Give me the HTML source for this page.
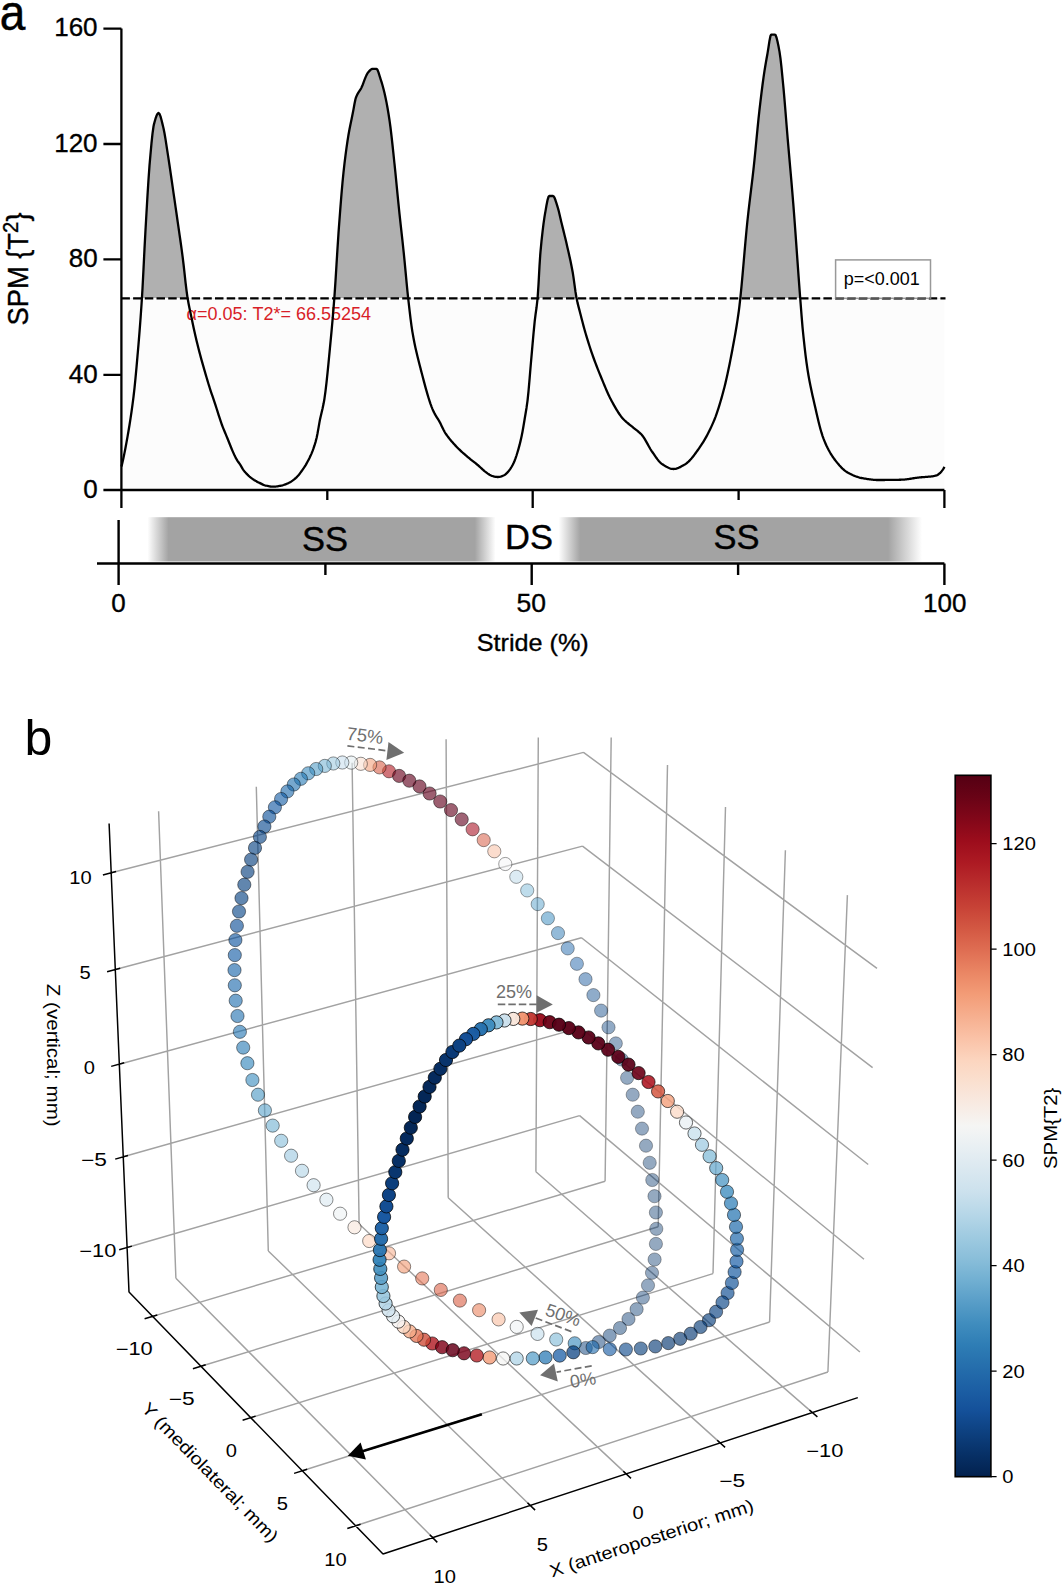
<!DOCTYPE html>
<html><head><meta charset="utf-8"><style>
html,body{margin:0;padding:0;background:#fff;}
body{width:1062px;height:1586px;overflow:hidden;position:relative;font-family:"Liberation Sans",sans-serif;}
svg{position:absolute;left:0;top:0;}
</style></head><body>
<svg width="1062" height="1586" viewBox="0 0 1062 1586" font-family="Liberation Sans, sans-serif">
<defs><clipPath id="above"><rect x="100" y="0" width="900" height="298.3"/></clipPath>
<linearGradient id="barg" x1="0" y1="0" x2="1062" y2="0" gradientUnits="userSpaceOnUse">
<stop offset="0.1389" stop-color="#a3a3a3" stop-opacity="0"/>
<stop offset="0.1587" stop-color="#a3a3a3" stop-opacity="1"/>
<stop offset="0.4471" stop-color="#a3a3a3" stop-opacity="1"/>
<stop offset="0.4666" stop-color="#a3a3a3" stop-opacity="0"/>
<stop offset="0.5260" stop-color="#a3a3a3" stop-opacity="0"/>
<stop offset="0.5464" stop-color="#a3a3a3" stop-opacity="1"/>
<stop offset="0.8362" stop-color="#a3a3a3" stop-opacity="1"/>
<stop offset="0.8682" stop-color="#a3a3a3" stop-opacity="0"/>
</linearGradient></defs>
<text transform="translate(-0.3,29.7) scale(0.92,1)" font-size="50" stroke="#000" stroke-width="0.5">a</text>
<rect x="121.4" y="298.3" width="823" height="191.7" fill="#fcfcfc"/>
<path d="M121.50,466.50 L122.50,462.26 L123.50,457.71 L124.50,452.87 L125.50,447.77 L126.50,442.41 L127.40,437.40 L127.50,436.83 L128.50,431.06 L129.50,425.04 L130.50,418.69 L131.50,411.93 L132.50,404.67 L133.50,396.82 L133.60,396.00 L134.50,388.05 L135.50,378.11 L136.50,367.32 L137.50,355.97 L137.80,352.50 L138.50,344.29 L139.50,332.08 L140.50,319.00 L141.50,304.72 L141.90,298.60 L142.50,288.45 L143.50,269.12 L144.50,248.84 L145.50,230.00 L146.50,212.54 L147.50,195.41 L148.50,179.49 L149.50,165.69 L149.80,162.10 L150.50,154.07 L151.50,143.12 L152.50,133.60 L153.50,126.48 L154.00,124.10 L154.50,122.21 L155.50,118.71 L156.50,115.83 L157.50,113.83 L158.50,113.01 L158.60,113.00 L159.50,113.83 L160.50,116.35 L161.50,119.97 L162.50,124.11 L163.20,127.00 L163.50,128.27 L164.50,133.27 L165.50,139.18 L166.50,145.62 L167.50,152.19 L168.00,155.40 L168.50,158.61 L169.50,165.23 L170.50,172.07 L171.50,179.01 L172.50,185.95 L172.90,188.70 L173.50,192.82 L174.50,199.69 L175.50,206.60 L176.50,213.53 L177.50,220.50 L177.70,221.90 L178.50,227.45 L179.50,234.34 L180.50,241.28 L181.50,248.40 L182.50,255.83 L182.60,256.60 L183.50,264.01 L184.50,272.98 L185.50,282.02 L186.50,290.41 L187.40,296.80 L187.50,297.42 L188.50,303.18 L189.50,308.28 L190.50,313.00 L191.50,317.63 L192.00,320.00 L192.50,322.40 L193.50,327.15 L194.50,331.78 L195.50,336.24 L195.70,337.10 L196.50,340.48 L197.50,344.58 L198.50,348.55 L199.50,352.40 L200.00,354.30 L200.50,356.17 L201.50,359.83 L202.50,363.39 L203.50,366.90 L204.50,370.36 L204.80,371.40 L205.50,373.82 L206.50,377.25 L207.50,380.64 L208.50,383.96 L209.50,387.18 L209.60,387.50 L210.50,390.29 L211.50,393.29 L212.50,396.23 L213.50,399.15 L214.50,402.10 L215.00,403.60 L215.50,405.12 L216.50,408.24 L217.50,411.40 L218.50,414.57 L219.50,417.69 L220.50,420.73 L221.50,423.62 L222.00,425.00 L222.50,426.32 L223.50,428.84 L224.50,431.26 L225.30,433.20 L225.50,433.69 L226.50,436.13 L227.50,438.55 L228.50,440.98 L229.00,442.20 L229.50,443.45 L230.50,445.99 L231.50,448.50 L232.30,450.40 L232.50,450.86 L233.50,453.11 L234.50,455.29 L235.50,457.33 L236.40,459.00 L236.50,459.17 L237.50,460.80 L238.50,462.27 L239.50,463.71 L240.50,465.20 L241.50,466.85 L242.50,468.54 L243.50,470.09 L243.80,470.50 L244.50,471.39 L245.50,472.57 L246.50,473.66 L247.50,474.67 L248.50,475.62 L248.70,475.80 L249.50,476.51 L250.50,477.35 L251.50,478.14 L252.50,478.88 L253.50,479.57 L254.00,479.90 L254.50,480.21 L255.50,480.81 L256.50,481.37 L257.50,481.90 L258.50,482.41 L259.30,482.80 L259.50,482.90 L260.50,483.40 L261.50,483.90 L262.50,484.39 L263.50,484.84 L264.50,485.23 L265.50,485.53 L265.80,485.60 L266.50,485.75 L267.50,485.97 L268.50,486.17 L269.50,486.35 L270.50,486.50 L271.50,486.61 L272.50,486.68 L273.30,486.70 L273.50,486.70 L274.50,486.66 L275.50,486.58 L276.50,486.46 L277.50,486.31 L278.50,486.14 L279.50,485.95 L280.50,485.76 L280.80,485.70 L281.50,485.55 L282.50,485.31 L283.50,485.02 L284.50,484.69 L285.50,484.32 L286.50,483.93 L287.50,483.50 L288.40,483.10 L288.50,483.05 L289.50,482.55 L290.50,481.98 L291.50,481.35 L292.50,480.65 L293.50,479.90 L294.50,479.10 L295.50,478.25 L295.90,477.90 L296.50,477.34 L297.50,476.31 L298.50,475.18 L299.50,473.95 L300.50,472.65 L301.50,471.29 L302.50,469.90 L303.50,468.45 L304.50,466.92 L305.50,465.31 L306.50,463.60 L307.50,461.81 L308.20,460.50 L308.50,459.93 L309.50,457.96 L310.50,455.86 L311.50,453.60 L312.50,451.15 L312.90,450.10 L313.50,448.45 L314.50,445.47 L315.50,442.12 L316.50,438.31 L316.60,437.90 L317.50,433.56 L318.50,427.84 L319.50,422.09 L319.90,420.00 L320.50,417.16 L321.50,412.91 L322.50,408.74 L323.50,404.08 L324.20,400.20 L324.50,398.32 L325.50,391.09 L326.50,382.59 L327.50,373.14 L328.50,363.05 L329.50,352.63 L330.50,342.20 L331.50,331.64 L332.50,320.49 L333.50,308.59 L334.30,298.40 L334.50,295.71 L335.50,280.90 L336.50,264.69 L337.50,248.33 L338.50,233.08 L338.80,228.90 L339.50,219.48 L340.50,206.36 L341.50,193.92 L342.50,182.50 L343.50,172.40 L344.50,163.47 L345.50,155.30 L346.50,147.84 L347.50,141.02 L348.20,136.60 L348.50,134.80 L349.50,129.26 L350.50,124.21 L351.50,119.40 L352.50,114.59 L353.00,112.10 L353.50,109.41 L354.50,103.72 L355.50,98.98 L355.80,98.00 L356.50,96.19 L357.50,94.12 L358.50,92.44 L359.50,90.93 L360.50,89.36 L361.40,87.70 L361.50,87.49 L362.50,85.21 L363.50,82.63 L364.50,79.96 L365.50,77.38 L366.50,75.09 L367.50,73.27 L368.00,72.60 L368.50,72.02 L369.50,70.88 L370.50,69.88 L371.50,69.15 L372.50,68.81 L372.70,68.80 L373.50,68.80 L374.50,68.80 L375.50,68.80 L376.50,68.80 L377.50,69.84 L378.50,72.42 L379.50,75.67 L380.30,78.20 L380.50,78.79 L381.50,81.90 L382.50,85.29 L383.50,89.00 L384.50,93.05 L385.00,95.20 L385.50,97.46 L386.50,102.37 L387.50,107.80 L388.50,113.76 L389.50,120.24 L389.70,121.60 L390.50,127.51 L391.50,135.88 L392.50,145.00 L393.50,154.47 L394.40,163.00 L394.50,163.94 L395.50,173.67 L396.50,183.80 L397.50,194.05 L398.50,204.14 L399.10,210.00 L399.50,213.80 L400.50,223.04 L401.50,232.09 L402.50,241.17 L403.50,250.51 L403.80,253.40 L404.50,260.42 L405.50,270.98 L406.50,281.63 L407.50,291.83 L408.20,298.40 L408.50,301.08 L409.50,309.91 L410.50,318.31 L411.50,325.92 L412.40,331.80 L412.50,332.39 L413.50,338.01 L414.50,343.16 L415.50,347.92 L416.50,352.37 L417.50,356.56 L418.50,360.57 L419.50,364.47 L420.50,368.33 L420.70,369.10 L421.50,372.20 L422.50,376.05 L423.50,379.88 L424.50,383.65 L425.50,387.34 L426.50,390.93 L427.50,394.40 L428.50,397.72 L429.50,400.88 L430.50,403.84 L431.50,406.59 L432.50,409.11 L433.10,410.50 L433.50,411.37 L434.50,413.35 L435.50,415.13 L436.50,416.78 L437.50,418.37 L438.50,419.98 L439.50,421.69 L440.00,422.60 L440.50,423.57 L441.50,425.63 L442.50,427.75 L443.50,429.80 L444.50,431.66 L444.70,432.00 L445.50,433.28 L446.50,434.76 L447.50,436.15 L448.50,437.46 L449.40,438.60 L449.50,438.73 L450.50,439.96 L451.50,441.15 L452.50,442.32 L453.50,443.45 L454.50,444.55 L455.50,445.62 L456.50,446.67 L457.50,447.70 L458.50,448.70 L458.80,449.00 L459.50,449.68 L460.50,450.64 L461.50,451.57 L462.50,452.48 L463.50,453.37 L464.50,454.24 L465.50,455.11 L466.50,455.96 L467.50,456.81 L468.20,457.40 L468.50,457.65 L469.50,458.48 L470.50,459.28 L471.50,460.07 L472.50,460.85 L473.50,461.63 L474.50,462.42 L475.50,463.21 L476.50,464.01 L477.50,464.83 L477.70,465.00 L478.50,465.69 L479.50,466.59 L480.50,467.51 L481.50,468.44 L482.50,469.36 L483.50,470.24 L484.50,471.06 L485.20,471.60 L485.50,471.82 L486.50,472.58 L487.50,473.34 L488.50,474.06 L489.50,474.72 L490.50,475.28 L491.50,475.70 L491.80,475.80 L492.50,476.01 L493.50,476.29 L494.50,476.55 L495.50,476.76 L496.50,476.91 L497.50,476.99 L497.90,477.00 L498.50,476.98 L499.50,476.85 L500.50,476.61 L501.50,476.30 L502.50,475.93 L503.50,475.52 L504.00,475.30 L504.50,475.05 L505.50,474.36 L506.50,473.46 L507.50,472.40 L508.50,471.21 L509.50,469.96 L509.70,469.70 L510.50,468.59 L511.50,467.00 L512.50,465.19 L513.50,463.17 L514.40,461.20 L514.50,460.97 L515.50,458.43 L516.50,455.50 L517.50,452.27 L518.20,449.90 L518.50,448.85 L519.50,445.16 L520.50,441.11 L521.50,436.69 L521.90,434.80 L522.50,431.75 L523.50,426.07 L524.50,420.02 L524.70,418.80 L525.50,414.05 L526.50,407.94 L527.50,400.80 L527.60,400.00 L528.50,391.40 L529.50,379.84 L530.50,367.74 L531.00,362.00 L531.50,356.37 L532.50,344.86 L533.50,333.59 L534.50,323.28 L534.70,321.40 L535.50,314.90 L536.50,307.77 L537.50,299.07 L537.60,298.00 L538.50,284.50 L539.50,266.01 L540.20,255.30 L540.50,251.72 L541.50,241.10 L542.50,232.04 L543.10,227.10 L543.50,223.96 L544.50,216.86 L545.00,213.90 L545.50,211.09 L546.50,205.30 L547.50,200.19 L548.50,196.80 L549.20,196.00 L549.50,196.00 L550.50,196.00 L551.50,196.00 L552.50,196.00 L553.00,196.00 L553.50,196.21 L554.50,197.72 L555.50,200.29 L556.50,203.43 L557.50,206.68 L557.70,207.30 L558.50,210.06 L559.50,214.15 L560.50,218.55 L561.40,222.40 L561.50,222.81 L562.50,226.87 L563.50,230.90 L564.50,234.95 L565.50,239.07 L566.50,243.29 L567.10,245.90 L567.50,247.65 L568.50,252.01 L569.50,256.44 L570.50,261.03 L571.50,265.91 L572.50,271.19 L572.70,272.30 L573.50,277.36 L574.50,284.66 L575.50,291.93 L576.50,298.00 L577.50,302.63 L578.50,306.63 L579.50,310.40 L580.10,312.70 L580.50,314.27 L581.50,318.20 L582.50,322.07 L583.50,325.85 L584.50,329.49 L585.10,331.60 L585.50,332.98 L586.50,336.36 L587.50,339.65 L588.50,342.87 L589.50,346.00 L590.50,349.06 L591.50,352.03 L592.50,354.93 L592.70,355.50 L593.50,357.75 L594.50,360.49 L595.50,363.15 L596.50,365.76 L597.50,368.32 L598.50,370.83 L599.50,373.31 L600.50,375.76 L601.50,378.20 L602.50,380.64 L603.50,383.09 L604.50,385.52 L605.50,387.93 L606.50,390.28 L607.50,392.56 L608.50,394.75 L609.50,396.83 L610.30,398.40 L610.50,398.78 L611.50,400.67 L612.50,402.54 L613.50,404.37 L614.50,406.16 L615.50,407.90 L616.50,409.58 L617.50,411.20 L618.50,412.76 L619.50,414.23 L620.50,415.63 L621.50,416.94 L622.50,418.14 L622.90,418.60 L623.50,419.25 L624.50,420.27 L625.50,421.22 L626.50,422.11 L627.50,422.95 L628.50,423.76 L629.50,424.56 L630.50,425.35 L631.50,426.15 L632.50,426.97 L633.00,427.40 L633.50,427.82 L634.50,428.63 L635.50,429.41 L636.50,430.18 L637.50,430.96 L638.50,431.76 L639.50,432.62 L640.50,433.55 L641.50,434.56 L641.90,435.00 L642.50,435.71 L643.50,437.08 L644.50,438.63 L645.50,440.32 L646.50,442.10 L647.50,443.92 L648.50,445.75 L649.50,447.54 L650.50,449.25 L651.50,450.82 L651.90,451.40 L652.50,452.26 L653.50,453.71 L654.50,455.18 L655.50,456.63 L656.50,458.05 L657.50,459.39 L658.50,460.65 L659.50,461.80 L660.50,462.80 L661.50,463.65 L662.00,464.00 L662.50,464.33 L663.50,464.98 L664.50,465.61 L665.50,466.23 L666.50,466.80 L667.50,467.33 L668.50,467.81 L669.50,468.22 L670.50,468.55 L671.50,468.80 L672.50,468.95 L673.40,469.00 L673.50,469.00 L674.50,468.94 L675.50,468.78 L676.50,468.53 L677.50,468.21 L678.50,467.82 L679.50,467.37 L680.50,466.88 L681.50,466.35 L682.50,465.79 L683.50,465.22 L684.50,464.63 L684.90,464.40 L685.50,464.03 L686.50,463.32 L687.50,462.51 L688.50,461.61 L689.50,460.61 L690.50,459.54 L691.50,458.39 L692.50,457.18 L693.50,455.92 L694.50,454.61 L695.50,453.26 L696.50,451.88 L697.50,450.49 L698.50,449.07 L699.40,447.80 L699.50,447.66 L700.50,446.21 L701.50,444.72 L702.50,443.16 L703.50,441.56 L704.50,439.89 L705.50,438.16 L706.50,436.37 L707.50,434.52 L708.50,432.59 L709.50,430.59 L710.50,428.52 L711.50,426.38 L712.50,424.15 L713.50,421.85 L713.90,420.90 L714.50,419.44 L715.50,416.86 L716.50,414.10 L717.50,411.18 L718.50,408.11 L719.50,404.89 L720.50,401.54 L721.50,398.06 L722.50,394.45 L723.50,390.74 L724.30,387.70 L724.50,386.93 L725.50,382.89 L726.50,378.60 L727.50,374.08 L728.50,369.35 L729.50,364.45 L730.50,359.40 L731.50,354.21 L732.50,348.93 L732.60,348.40 L733.50,343.58 L734.50,338.12 L735.50,332.45 L736.50,326.49 L737.50,320.12 L738.50,313.27 L738.80,311.10 L739.50,305.51 L740.30,298.30 L740.50,296.41 L741.50,286.33 L742.50,275.42 L743.50,264.02 L744.50,252.46 L745.50,241.09 L746.50,230.24 L747.40,221.20 L747.50,220.25 L748.50,211.12 L749.50,202.55 L750.50,194.30 L751.50,186.13 L752.50,177.79 L753.50,169.04 L753.80,166.30 L754.50,159.62 L755.50,149.54 L756.50,139.13 L757.50,128.79 L758.50,118.87 L759.30,111.50 L759.50,109.74 L760.50,101.11 L761.50,92.83 L762.50,84.98 L763.50,77.66 L763.90,74.90 L764.50,70.95 L765.50,64.78 L766.50,59.00 L767.50,53.45 L767.60,52.90 L768.50,47.27 L769.50,40.67 L770.50,35.81 L771.20,34.60 L771.50,34.60 L772.50,34.60 L773.50,34.60 L774.50,34.60 L774.90,34.60 L775.50,35.04 L776.50,37.44 L777.50,41.42 L778.50,46.35 L779.40,51.10 L779.50,51.64 L780.50,58.62 L781.50,67.71 L782.50,77.84 L783.10,84.00 L783.50,88.18 L784.50,99.53 L785.50,111.74 L786.50,124.26 L787.50,136.52 L787.70,138.90 L788.50,148.21 L789.50,159.63 L790.50,170.98 L791.50,182.47 L792.50,194.31 L793.20,202.90 L793.50,206.69 L794.50,219.77 L795.50,233.41 L796.50,247.36 L797.50,261.40 L798.50,275.31 L799.50,288.86 L800.20,298.00 L800.50,301.88 L801.50,314.87 L802.50,326.83 L802.80,330.00 L803.50,336.93 L804.50,346.22 L805.50,354.76 L806.50,362.50 L807.50,369.36 L807.60,370.00 L808.50,375.45 L809.50,380.99 L810.50,386.09 L811.50,390.86 L812.50,395.40 L813.50,399.81 L814.00,402.00 L814.50,404.20 L815.50,408.60 L816.50,412.98 L817.50,417.29 L818.50,421.46 L819.50,425.46 L820.50,429.22 L821.50,432.71 L822.50,435.87 L823.50,438.65 L823.60,438.90 L824.50,441.12 L825.50,443.45 L826.50,445.66 L827.50,447.74 L828.50,449.70 L829.50,451.55 L830.50,453.29 L831.50,454.93 L832.50,456.48 L833.50,457.93 L834.50,459.30 L834.80,459.70 L835.50,460.61 L836.50,461.88 L837.50,463.11 L838.50,464.31 L839.50,465.46 L840.50,466.55 L841.50,467.60 L842.50,468.58 L843.50,469.50 L844.50,470.35 L845.50,471.13 L846.50,471.83 L847.50,472.44 L847.60,472.50 L848.50,473.00 L849.50,473.54 L850.50,474.05 L851.50,474.54 L852.50,475.01 L853.50,475.45 L854.50,475.87 L855.50,476.26 L856.50,476.62 L857.50,476.96 L858.50,477.26 L859.50,477.54 L860.50,477.79 L861.50,478.00 L862.00,478.10 L862.50,478.19 L863.50,478.37 L864.50,478.55 L865.50,478.73 L866.50,478.89 L867.50,479.05 L868.50,479.21 L869.50,479.35 L870.50,479.48 L871.50,479.60 L872.50,479.71 L873.50,479.80 L874.50,479.88 L875.50,479.94 L876.50,479.98 L877.50,480.00 L878.00,480.00 L878.50,480.00 L879.50,480.00 L880.50,480.00 L881.50,479.99 L882.50,479.99 L883.50,479.98 L884.50,479.98 L885.50,479.97 L886.50,479.96 L887.50,479.95 L888.50,479.94 L889.50,479.93 L890.50,479.92 L891.50,479.90 L892.50,479.89 L893.50,479.87 L894.50,479.86 L895.50,479.84 L896.50,479.82 L897.50,479.80 L898.50,479.78 L899.50,479.76 L900.50,479.74 L901.50,479.71 L902.00,479.70 L902.50,479.68 L903.50,479.63 L904.50,479.56 L905.50,479.46 L906.50,479.35 L907.50,479.22 L908.50,479.07 L909.50,478.92 L910.50,478.76 L911.50,478.59 L912.50,478.42 L913.50,478.26 L914.50,478.10 L915.50,477.94 L916.50,477.79 L917.50,477.66 L918.00,477.60 L918.50,477.54 L919.50,477.44 L920.50,477.34 L921.50,477.26 L922.50,477.18 L923.50,477.11 L924.50,477.03 L925.50,476.96 L926.50,476.89 L927.50,476.81 L928.50,476.72 L929.50,476.63 L930.50,476.52 L931.50,476.40 L932.50,476.27 L933.50,476.11 L934.50,475.94 L935.50,475.74 L935.70,475.70 L936.50,475.45 L937.50,474.93 L938.50,474.25 L939.50,473.46 L939.70,473.30 L940.50,472.56 L941.50,471.43 L942.50,470.09 L943.50,468.57 L944.50,466.90 L944.5,298.3 L121.5,298.3 Z" fill="#b0b0b0" clip-path="url(#above)"/>
<text x="186.6" y="319.8" font-size="18.4" fill="#d81e28" textLength="184.5" lengthAdjust="spacingAndGlyphs">α=0.05: T2*= 66.55254</text>
<path d="M121.50,466.50 L122.50,462.26 L123.50,457.71 L124.50,452.87 L125.50,447.77 L126.50,442.41 L127.40,437.40 L127.50,436.83 L128.50,431.06 L129.50,425.04 L130.50,418.69 L131.50,411.93 L132.50,404.67 L133.50,396.82 L133.60,396.00 L134.50,388.05 L135.50,378.11 L136.50,367.32 L137.50,355.97 L137.80,352.50 L138.50,344.29 L139.50,332.08 L140.50,319.00 L141.50,304.72 L141.90,298.60 L142.50,288.45 L143.50,269.12 L144.50,248.84 L145.50,230.00 L146.50,212.54 L147.50,195.41 L148.50,179.49 L149.50,165.69 L149.80,162.10 L150.50,154.07 L151.50,143.12 L152.50,133.60 L153.50,126.48 L154.00,124.10 L154.50,122.21 L155.50,118.71 L156.50,115.83 L157.50,113.83 L158.50,113.01 L158.60,113.00 L159.50,113.83 L160.50,116.35 L161.50,119.97 L162.50,124.11 L163.20,127.00 L163.50,128.27 L164.50,133.27 L165.50,139.18 L166.50,145.62 L167.50,152.19 L168.00,155.40 L168.50,158.61 L169.50,165.23 L170.50,172.07 L171.50,179.01 L172.50,185.95 L172.90,188.70 L173.50,192.82 L174.50,199.69 L175.50,206.60 L176.50,213.53 L177.50,220.50 L177.70,221.90 L178.50,227.45 L179.50,234.34 L180.50,241.28 L181.50,248.40 L182.50,255.83 L182.60,256.60 L183.50,264.01 L184.50,272.98 L185.50,282.02 L186.50,290.41 L187.40,296.80 L187.50,297.42 L188.50,303.18 L189.50,308.28 L190.50,313.00 L191.50,317.63 L192.00,320.00 L192.50,322.40 L193.50,327.15 L194.50,331.78 L195.50,336.24 L195.70,337.10 L196.50,340.48 L197.50,344.58 L198.50,348.55 L199.50,352.40 L200.00,354.30 L200.50,356.17 L201.50,359.83 L202.50,363.39 L203.50,366.90 L204.50,370.36 L204.80,371.40 L205.50,373.82 L206.50,377.25 L207.50,380.64 L208.50,383.96 L209.50,387.18 L209.60,387.50 L210.50,390.29 L211.50,393.29 L212.50,396.23 L213.50,399.15 L214.50,402.10 L215.00,403.60 L215.50,405.12 L216.50,408.24 L217.50,411.40 L218.50,414.57 L219.50,417.69 L220.50,420.73 L221.50,423.62 L222.00,425.00 L222.50,426.32 L223.50,428.84 L224.50,431.26 L225.30,433.20 L225.50,433.69 L226.50,436.13 L227.50,438.55 L228.50,440.98 L229.00,442.20 L229.50,443.45 L230.50,445.99 L231.50,448.50 L232.30,450.40 L232.50,450.86 L233.50,453.11 L234.50,455.29 L235.50,457.33 L236.40,459.00 L236.50,459.17 L237.50,460.80 L238.50,462.27 L239.50,463.71 L240.50,465.20 L241.50,466.85 L242.50,468.54 L243.50,470.09 L243.80,470.50 L244.50,471.39 L245.50,472.57 L246.50,473.66 L247.50,474.67 L248.50,475.62 L248.70,475.80 L249.50,476.51 L250.50,477.35 L251.50,478.14 L252.50,478.88 L253.50,479.57 L254.00,479.90 L254.50,480.21 L255.50,480.81 L256.50,481.37 L257.50,481.90 L258.50,482.41 L259.30,482.80 L259.50,482.90 L260.50,483.40 L261.50,483.90 L262.50,484.39 L263.50,484.84 L264.50,485.23 L265.50,485.53 L265.80,485.60 L266.50,485.75 L267.50,485.97 L268.50,486.17 L269.50,486.35 L270.50,486.50 L271.50,486.61 L272.50,486.68 L273.30,486.70 L273.50,486.70 L274.50,486.66 L275.50,486.58 L276.50,486.46 L277.50,486.31 L278.50,486.14 L279.50,485.95 L280.50,485.76 L280.80,485.70 L281.50,485.55 L282.50,485.31 L283.50,485.02 L284.50,484.69 L285.50,484.32 L286.50,483.93 L287.50,483.50 L288.40,483.10 L288.50,483.05 L289.50,482.55 L290.50,481.98 L291.50,481.35 L292.50,480.65 L293.50,479.90 L294.50,479.10 L295.50,478.25 L295.90,477.90 L296.50,477.34 L297.50,476.31 L298.50,475.18 L299.50,473.95 L300.50,472.65 L301.50,471.29 L302.50,469.90 L303.50,468.45 L304.50,466.92 L305.50,465.31 L306.50,463.60 L307.50,461.81 L308.20,460.50 L308.50,459.93 L309.50,457.96 L310.50,455.86 L311.50,453.60 L312.50,451.15 L312.90,450.10 L313.50,448.45 L314.50,445.47 L315.50,442.12 L316.50,438.31 L316.60,437.90 L317.50,433.56 L318.50,427.84 L319.50,422.09 L319.90,420.00 L320.50,417.16 L321.50,412.91 L322.50,408.74 L323.50,404.08 L324.20,400.20 L324.50,398.32 L325.50,391.09 L326.50,382.59 L327.50,373.14 L328.50,363.05 L329.50,352.63 L330.50,342.20 L331.50,331.64 L332.50,320.49 L333.50,308.59 L334.30,298.40 L334.50,295.71 L335.50,280.90 L336.50,264.69 L337.50,248.33 L338.50,233.08 L338.80,228.90 L339.50,219.48 L340.50,206.36 L341.50,193.92 L342.50,182.50 L343.50,172.40 L344.50,163.47 L345.50,155.30 L346.50,147.84 L347.50,141.02 L348.20,136.60 L348.50,134.80 L349.50,129.26 L350.50,124.21 L351.50,119.40 L352.50,114.59 L353.00,112.10 L353.50,109.41 L354.50,103.72 L355.50,98.98 L355.80,98.00 L356.50,96.19 L357.50,94.12 L358.50,92.44 L359.50,90.93 L360.50,89.36 L361.40,87.70 L361.50,87.49 L362.50,85.21 L363.50,82.63 L364.50,79.96 L365.50,77.38 L366.50,75.09 L367.50,73.27 L368.00,72.60 L368.50,72.02 L369.50,70.88 L370.50,69.88 L371.50,69.15 L372.50,68.81 L372.70,68.80 L373.50,68.80 L374.50,68.80 L375.50,68.80 L376.50,68.80 L377.50,69.84 L378.50,72.42 L379.50,75.67 L380.30,78.20 L380.50,78.79 L381.50,81.90 L382.50,85.29 L383.50,89.00 L384.50,93.05 L385.00,95.20 L385.50,97.46 L386.50,102.37 L387.50,107.80 L388.50,113.76 L389.50,120.24 L389.70,121.60 L390.50,127.51 L391.50,135.88 L392.50,145.00 L393.50,154.47 L394.40,163.00 L394.50,163.94 L395.50,173.67 L396.50,183.80 L397.50,194.05 L398.50,204.14 L399.10,210.00 L399.50,213.80 L400.50,223.04 L401.50,232.09 L402.50,241.17 L403.50,250.51 L403.80,253.40 L404.50,260.42 L405.50,270.98 L406.50,281.63 L407.50,291.83 L408.20,298.40 L408.50,301.08 L409.50,309.91 L410.50,318.31 L411.50,325.92 L412.40,331.80 L412.50,332.39 L413.50,338.01 L414.50,343.16 L415.50,347.92 L416.50,352.37 L417.50,356.56 L418.50,360.57 L419.50,364.47 L420.50,368.33 L420.70,369.10 L421.50,372.20 L422.50,376.05 L423.50,379.88 L424.50,383.65 L425.50,387.34 L426.50,390.93 L427.50,394.40 L428.50,397.72 L429.50,400.88 L430.50,403.84 L431.50,406.59 L432.50,409.11 L433.10,410.50 L433.50,411.37 L434.50,413.35 L435.50,415.13 L436.50,416.78 L437.50,418.37 L438.50,419.98 L439.50,421.69 L440.00,422.60 L440.50,423.57 L441.50,425.63 L442.50,427.75 L443.50,429.80 L444.50,431.66 L444.70,432.00 L445.50,433.28 L446.50,434.76 L447.50,436.15 L448.50,437.46 L449.40,438.60 L449.50,438.73 L450.50,439.96 L451.50,441.15 L452.50,442.32 L453.50,443.45 L454.50,444.55 L455.50,445.62 L456.50,446.67 L457.50,447.70 L458.50,448.70 L458.80,449.00 L459.50,449.68 L460.50,450.64 L461.50,451.57 L462.50,452.48 L463.50,453.37 L464.50,454.24 L465.50,455.11 L466.50,455.96 L467.50,456.81 L468.20,457.40 L468.50,457.65 L469.50,458.48 L470.50,459.28 L471.50,460.07 L472.50,460.85 L473.50,461.63 L474.50,462.42 L475.50,463.21 L476.50,464.01 L477.50,464.83 L477.70,465.00 L478.50,465.69 L479.50,466.59 L480.50,467.51 L481.50,468.44 L482.50,469.36 L483.50,470.24 L484.50,471.06 L485.20,471.60 L485.50,471.82 L486.50,472.58 L487.50,473.34 L488.50,474.06 L489.50,474.72 L490.50,475.28 L491.50,475.70 L491.80,475.80 L492.50,476.01 L493.50,476.29 L494.50,476.55 L495.50,476.76 L496.50,476.91 L497.50,476.99 L497.90,477.00 L498.50,476.98 L499.50,476.85 L500.50,476.61 L501.50,476.30 L502.50,475.93 L503.50,475.52 L504.00,475.30 L504.50,475.05 L505.50,474.36 L506.50,473.46 L507.50,472.40 L508.50,471.21 L509.50,469.96 L509.70,469.70 L510.50,468.59 L511.50,467.00 L512.50,465.19 L513.50,463.17 L514.40,461.20 L514.50,460.97 L515.50,458.43 L516.50,455.50 L517.50,452.27 L518.20,449.90 L518.50,448.85 L519.50,445.16 L520.50,441.11 L521.50,436.69 L521.90,434.80 L522.50,431.75 L523.50,426.07 L524.50,420.02 L524.70,418.80 L525.50,414.05 L526.50,407.94 L527.50,400.80 L527.60,400.00 L528.50,391.40 L529.50,379.84 L530.50,367.74 L531.00,362.00 L531.50,356.37 L532.50,344.86 L533.50,333.59 L534.50,323.28 L534.70,321.40 L535.50,314.90 L536.50,307.77 L537.50,299.07 L537.60,298.00 L538.50,284.50 L539.50,266.01 L540.20,255.30 L540.50,251.72 L541.50,241.10 L542.50,232.04 L543.10,227.10 L543.50,223.96 L544.50,216.86 L545.00,213.90 L545.50,211.09 L546.50,205.30 L547.50,200.19 L548.50,196.80 L549.20,196.00 L549.50,196.00 L550.50,196.00 L551.50,196.00 L552.50,196.00 L553.00,196.00 L553.50,196.21 L554.50,197.72 L555.50,200.29 L556.50,203.43 L557.50,206.68 L557.70,207.30 L558.50,210.06 L559.50,214.15 L560.50,218.55 L561.40,222.40 L561.50,222.81 L562.50,226.87 L563.50,230.90 L564.50,234.95 L565.50,239.07 L566.50,243.29 L567.10,245.90 L567.50,247.65 L568.50,252.01 L569.50,256.44 L570.50,261.03 L571.50,265.91 L572.50,271.19 L572.70,272.30 L573.50,277.36 L574.50,284.66 L575.50,291.93 L576.50,298.00 L577.50,302.63 L578.50,306.63 L579.50,310.40 L580.10,312.70 L580.50,314.27 L581.50,318.20 L582.50,322.07 L583.50,325.85 L584.50,329.49 L585.10,331.60 L585.50,332.98 L586.50,336.36 L587.50,339.65 L588.50,342.87 L589.50,346.00 L590.50,349.06 L591.50,352.03 L592.50,354.93 L592.70,355.50 L593.50,357.75 L594.50,360.49 L595.50,363.15 L596.50,365.76 L597.50,368.32 L598.50,370.83 L599.50,373.31 L600.50,375.76 L601.50,378.20 L602.50,380.64 L603.50,383.09 L604.50,385.52 L605.50,387.93 L606.50,390.28 L607.50,392.56 L608.50,394.75 L609.50,396.83 L610.30,398.40 L610.50,398.78 L611.50,400.67 L612.50,402.54 L613.50,404.37 L614.50,406.16 L615.50,407.90 L616.50,409.58 L617.50,411.20 L618.50,412.76 L619.50,414.23 L620.50,415.63 L621.50,416.94 L622.50,418.14 L622.90,418.60 L623.50,419.25 L624.50,420.27 L625.50,421.22 L626.50,422.11 L627.50,422.95 L628.50,423.76 L629.50,424.56 L630.50,425.35 L631.50,426.15 L632.50,426.97 L633.00,427.40 L633.50,427.82 L634.50,428.63 L635.50,429.41 L636.50,430.18 L637.50,430.96 L638.50,431.76 L639.50,432.62 L640.50,433.55 L641.50,434.56 L641.90,435.00 L642.50,435.71 L643.50,437.08 L644.50,438.63 L645.50,440.32 L646.50,442.10 L647.50,443.92 L648.50,445.75 L649.50,447.54 L650.50,449.25 L651.50,450.82 L651.90,451.40 L652.50,452.26 L653.50,453.71 L654.50,455.18 L655.50,456.63 L656.50,458.05 L657.50,459.39 L658.50,460.65 L659.50,461.80 L660.50,462.80 L661.50,463.65 L662.00,464.00 L662.50,464.33 L663.50,464.98 L664.50,465.61 L665.50,466.23 L666.50,466.80 L667.50,467.33 L668.50,467.81 L669.50,468.22 L670.50,468.55 L671.50,468.80 L672.50,468.95 L673.40,469.00 L673.50,469.00 L674.50,468.94 L675.50,468.78 L676.50,468.53 L677.50,468.21 L678.50,467.82 L679.50,467.37 L680.50,466.88 L681.50,466.35 L682.50,465.79 L683.50,465.22 L684.50,464.63 L684.90,464.40 L685.50,464.03 L686.50,463.32 L687.50,462.51 L688.50,461.61 L689.50,460.61 L690.50,459.54 L691.50,458.39 L692.50,457.18 L693.50,455.92 L694.50,454.61 L695.50,453.26 L696.50,451.88 L697.50,450.49 L698.50,449.07 L699.40,447.80 L699.50,447.66 L700.50,446.21 L701.50,444.72 L702.50,443.16 L703.50,441.56 L704.50,439.89 L705.50,438.16 L706.50,436.37 L707.50,434.52 L708.50,432.59 L709.50,430.59 L710.50,428.52 L711.50,426.38 L712.50,424.15 L713.50,421.85 L713.90,420.90 L714.50,419.44 L715.50,416.86 L716.50,414.10 L717.50,411.18 L718.50,408.11 L719.50,404.89 L720.50,401.54 L721.50,398.06 L722.50,394.45 L723.50,390.74 L724.30,387.70 L724.50,386.93 L725.50,382.89 L726.50,378.60 L727.50,374.08 L728.50,369.35 L729.50,364.45 L730.50,359.40 L731.50,354.21 L732.50,348.93 L732.60,348.40 L733.50,343.58 L734.50,338.12 L735.50,332.45 L736.50,326.49 L737.50,320.12 L738.50,313.27 L738.80,311.10 L739.50,305.51 L740.30,298.30 L740.50,296.41 L741.50,286.33 L742.50,275.42 L743.50,264.02 L744.50,252.46 L745.50,241.09 L746.50,230.24 L747.40,221.20 L747.50,220.25 L748.50,211.12 L749.50,202.55 L750.50,194.30 L751.50,186.13 L752.50,177.79 L753.50,169.04 L753.80,166.30 L754.50,159.62 L755.50,149.54 L756.50,139.13 L757.50,128.79 L758.50,118.87 L759.30,111.50 L759.50,109.74 L760.50,101.11 L761.50,92.83 L762.50,84.98 L763.50,77.66 L763.90,74.90 L764.50,70.95 L765.50,64.78 L766.50,59.00 L767.50,53.45 L767.60,52.90 L768.50,47.27 L769.50,40.67 L770.50,35.81 L771.20,34.60 L771.50,34.60 L772.50,34.60 L773.50,34.60 L774.50,34.60 L774.90,34.60 L775.50,35.04 L776.50,37.44 L777.50,41.42 L778.50,46.35 L779.40,51.10 L779.50,51.64 L780.50,58.62 L781.50,67.71 L782.50,77.84 L783.10,84.00 L783.50,88.18 L784.50,99.53 L785.50,111.74 L786.50,124.26 L787.50,136.52 L787.70,138.90 L788.50,148.21 L789.50,159.63 L790.50,170.98 L791.50,182.47 L792.50,194.31 L793.20,202.90 L793.50,206.69 L794.50,219.77 L795.50,233.41 L796.50,247.36 L797.50,261.40 L798.50,275.31 L799.50,288.86 L800.20,298.00 L800.50,301.88 L801.50,314.87 L802.50,326.83 L802.80,330.00 L803.50,336.93 L804.50,346.22 L805.50,354.76 L806.50,362.50 L807.50,369.36 L807.60,370.00 L808.50,375.45 L809.50,380.99 L810.50,386.09 L811.50,390.86 L812.50,395.40 L813.50,399.81 L814.00,402.00 L814.50,404.20 L815.50,408.60 L816.50,412.98 L817.50,417.29 L818.50,421.46 L819.50,425.46 L820.50,429.22 L821.50,432.71 L822.50,435.87 L823.50,438.65 L823.60,438.90 L824.50,441.12 L825.50,443.45 L826.50,445.66 L827.50,447.74 L828.50,449.70 L829.50,451.55 L830.50,453.29 L831.50,454.93 L832.50,456.48 L833.50,457.93 L834.50,459.30 L834.80,459.70 L835.50,460.61 L836.50,461.88 L837.50,463.11 L838.50,464.31 L839.50,465.46 L840.50,466.55 L841.50,467.60 L842.50,468.58 L843.50,469.50 L844.50,470.35 L845.50,471.13 L846.50,471.83 L847.50,472.44 L847.60,472.50 L848.50,473.00 L849.50,473.54 L850.50,474.05 L851.50,474.54 L852.50,475.01 L853.50,475.45 L854.50,475.87 L855.50,476.26 L856.50,476.62 L857.50,476.96 L858.50,477.26 L859.50,477.54 L860.50,477.79 L861.50,478.00 L862.00,478.10 L862.50,478.19 L863.50,478.37 L864.50,478.55 L865.50,478.73 L866.50,478.89 L867.50,479.05 L868.50,479.21 L869.50,479.35 L870.50,479.48 L871.50,479.60 L872.50,479.71 L873.50,479.80 L874.50,479.88 L875.50,479.94 L876.50,479.98 L877.50,480.00 L878.00,480.00 L878.50,480.00 L879.50,480.00 L880.50,480.00 L881.50,479.99 L882.50,479.99 L883.50,479.98 L884.50,479.98 L885.50,479.97 L886.50,479.96 L887.50,479.95 L888.50,479.94 L889.50,479.93 L890.50,479.92 L891.50,479.90 L892.50,479.89 L893.50,479.87 L894.50,479.86 L895.50,479.84 L896.50,479.82 L897.50,479.80 L898.50,479.78 L899.50,479.76 L900.50,479.74 L901.50,479.71 L902.00,479.70 L902.50,479.68 L903.50,479.63 L904.50,479.56 L905.50,479.46 L906.50,479.35 L907.50,479.22 L908.50,479.07 L909.50,478.92 L910.50,478.76 L911.50,478.59 L912.50,478.42 L913.50,478.26 L914.50,478.10 L915.50,477.94 L916.50,477.79 L917.50,477.66 L918.00,477.60 L918.50,477.54 L919.50,477.44 L920.50,477.34 L921.50,477.26 L922.50,477.18 L923.50,477.11 L924.50,477.03 L925.50,476.96 L926.50,476.89 L927.50,476.81 L928.50,476.72 L929.50,476.63 L930.50,476.52 L931.50,476.40 L932.50,476.27 L933.50,476.11 L934.50,475.94 L935.50,475.74 L935.70,475.70 L936.50,475.45 L937.50,474.93 L938.50,474.25 L939.50,473.46 L939.70,473.30 L940.50,472.56 L941.50,471.43 L942.50,470.09 L943.50,468.57 L944.50,466.90" fill="none" stroke="#000" stroke-width="2.3" stroke-linejoin="round"/>
<line x1="121.4" y1="298.3" x2="945.5" y2="298.3" stroke="#000" stroke-width="2.3" stroke-dasharray="8.5 3.2"/>
<path d="M121.4,28.6 V508 M103.4,490 H944.4 M103.4,28.6 H121.4 M103.4,144 H121.4 M103.4,259.4 H121.4 M103.4,374.8 H121.4 M327.3,490 V500 M532.7,490 V508 M738.6,490 V500 M944.4,490 V508" stroke="#000" stroke-width="2.3" fill="none"/>
<text x="97.6" y="36.3" font-size="26" text-anchor="end" stroke="#000" stroke-width="0.35">160</text>
<text x="97.6" y="151.7" font-size="26" text-anchor="end" stroke="#000" stroke-width="0.35">120</text>
<text x="97.6" y="267.1" font-size="26" text-anchor="end" stroke="#000" stroke-width="0.35">80</text>
<text x="97.6" y="382.5" font-size="26" text-anchor="end" stroke="#000" stroke-width="0.35">40</text>
<text x="97.6" y="497.7" font-size="26" text-anchor="end" stroke="#000" stroke-width="0.35">0</text>
<text transform="translate(27.6,269) rotate(-90)" stroke="#000" stroke-width="0.35" font-size="29.5" text-anchor="middle" textLength="113" lengthAdjust="spacingAndGlyphs">SPM {T<tspan font-size="22" dy="-10">2</tspan><tspan dy="10">}</tspan></text>
<rect x="835.6" y="259.9" width="94.9" height="38.4" fill="#fff" stroke="#999" stroke-width="1.5"/>
<line x1="835.6" y1="298.3" x2="930.5" y2="298.3" stroke="#555" stroke-width="2.3" stroke-dasharray="8.5 3.2"/>
<text x="843.7" y="284.9" font-size="18.3" textLength="76" lengthAdjust="spacingAndGlyphs">p=&lt;0.001</text>
<rect x="140" y="517.2" width="800" height="44.3" fill="url(#barg)"/>
<path d="M118.6,520 V585 M97,563.5 H944.4 M325.4,563.5 V575 M531.7,563.5 V585 M738.1,563.5 V575 M944.4,563.5 V585" stroke="#000" stroke-width="2.4" fill="none"/>
<g font-size="34.5" text-anchor="middle" stroke="#000" stroke-width="0.4"><text x="325" y="550.8">SS</text><text x="529" y="549">DS</text><text x="736.5" y="549.4">SS</text></g>
<g font-size="26" text-anchor="middle" stroke="#000" stroke-width="0.35"><text x="118.6" y="612.3">0</text><text x="531.3" y="612.3" textLength="29.5" lengthAdjust="spacingAndGlyphs">50</text><text x="944.8" y="612.3">100</text></g>
<text x="532.7" y="651" stroke="#000" stroke-width="0.35" font-size="24.5" text-anchor="middle" textLength="112" lengthAdjust="spacingAndGlyphs">Stride (%)</text>

<path d="M535.9,1171.7 L538.3,737.4 M579.6,1115.6 L127.1,1247.5 M605.1,1181.2 L611.2,737.4 M579.6,1115.6 L859.9,1352.0 M535.9,1171.7 L812.4,1412.6 M605.1,1181.2 L152.6,1316.4 M448.2,1197.7 L446.1,739.3 M580.5,1027.6 L123.3,1156.8 M658.2,1226.7 L667.5,765.1 M580.5,1027.6 L864.0,1259.3 M448.2,1197.7 L720.2,1442.9 M658.2,1226.7 L200.9,1366.2 M359.1,1224.0 L352.1,762.8 M581.5,937.8 L119.3,1064.2 M713.0,1273.6 L725.5,807.0 M581.5,937.8 L868.2,1164.5 M359.1,1224.0 L626.2,1473.9 M713.0,1273.6 L250.8,1417.7 M268.3,1250.9 L256.3,786.8 M582.5,846.1 L115.3,969.5 M769.6,1322.0 L785.4,850.3 M582.5,846.1 L872.6,1067.6 M268.3,1250.9 L530.3,1505.4 M769.6,1322.0 L302.3,1470.8 M175.9,1278.2 L158.6,811.2 M583.5,752.4 L111.2,872.7 M827.9,1372.0 L847.4,895.1 M583.5,752.4 L877.0,968.4 M175.9,1278.2 L432.6,1537.6 M827.9,1372.0 L355.7,1525.8" stroke="#a2a2a2" stroke-width="1.45" fill="none"/>
<path d="M129.0,1292.1 L109.1,823.5 M129.0,1292.1 L383.0,1554.0 M383.0,1554.0 L857.8,1397.6 M119.2,1249.8 L131.9,1246.1 M144.6,1318.8 L157.3,1315.0 M817.4,1416.9 L809.4,1410.0 M115.2,1159.1 L128.0,1155.5 M192.9,1368.7 L205.7,1364.8 M725.1,1447.4 L717.2,1440.3 M111.2,1066.4 L124.2,1062.8 M242.6,1420.2 L255.6,1416.1 M631.0,1478.4 L623.3,1471.2 M107.1,971.7 L120.2,968.2 M294.1,1473.4 L307.2,1469.2 M535.1,1510.1 L527.5,1502.7 M102.9,874.9 L116.1,871.5 M347.3,1528.5 L360.6,1524.2 M437.3,1542.4 L429.8,1534.8" stroke="#000" stroke-width="1.5" fill="none" stroke-linejoin="miter"/>
<g stroke-width="0.8">
<circle cx="621.7" cy="1059.5" r="6.6" fill="#003773" fill-opacity="0.42" stroke="#000" stroke-opacity="0.39"/>
<circle cx="627.1" cy="1077.8" r="6.6" fill="#00346e" fill-opacity="0.42" stroke="#000" stroke-opacity="0.40"/>
<circle cx="632.7" cy="1094.7" r="6.6" fill="#00336b" fill-opacity="0.42" stroke="#000" stroke-opacity="0.40"/>
<circle cx="637.8" cy="1111.7" r="6.6" fill="#00336b" fill-opacity="0.42" stroke="#000" stroke-opacity="0.40"/>
<circle cx="642.0" cy="1128.6" r="6.6" fill="#00336b" fill-opacity="0.42" stroke="#000" stroke-opacity="0.40"/>
<circle cx="652.0" cy="1272.8" r="6.6" fill="#00336b" fill-opacity="0.42" stroke="#000" stroke-opacity="0.40"/>
<circle cx="648.0" cy="1285.4" r="6.6" fill="#00336b" fill-opacity="0.42" stroke="#000" stroke-opacity="0.40"/>
<circle cx="646.0" cy="1145.7" r="6.6" fill="#003169" fill-opacity="0.42" stroke="#000" stroke-opacity="0.40"/>
<circle cx="649.7" cy="1162.8" r="6.6" fill="#003169" fill-opacity="0.42" stroke="#000" stroke-opacity="0.40"/>
<circle cx="652.3" cy="1180.0" r="6.6" fill="#003169" fill-opacity="0.42" stroke="#000" stroke-opacity="0.40"/>
<circle cx="654.5" cy="1196.2" r="6.6" fill="#003169" fill-opacity="0.42" stroke="#000" stroke-opacity="0.40"/>
<circle cx="655.9" cy="1212.5" r="6.6" fill="#003169" fill-opacity="0.42" stroke="#000" stroke-opacity="0.40"/>
<circle cx="656.3" cy="1228.8" r="6.6" fill="#003169" fill-opacity="0.42" stroke="#000" stroke-opacity="0.40"/>
<circle cx="655.9" cy="1243.9" r="6.6" fill="#003169" fill-opacity="0.42" stroke="#000" stroke-opacity="0.40"/>
<circle cx="654.6" cy="1259.5" r="6.6" fill="#003169" fill-opacity="0.42" stroke="#000" stroke-opacity="0.40"/>
<circle cx="615.8" cy="1043.4" r="6.6" fill="#003875" fill-opacity="0.42" stroke="#000" stroke-opacity="0.40"/>
<circle cx="642.9" cy="1297.6" r="6.6" fill="#00346e" fill-opacity="0.43" stroke="#000" stroke-opacity="0.41"/>
<circle cx="608.5" cy="1027.3" r="6.6" fill="#003978" fill-opacity="0.43" stroke="#000" stroke-opacity="0.41"/>
<circle cx="601.1" cy="1010.6" r="6.6" fill="#003d7f" fill-opacity="0.44" stroke="#000" stroke-opacity="0.42"/>
<circle cx="636.6" cy="1309.2" r="6.6" fill="#00346e" fill-opacity="0.44" stroke="#000" stroke-opacity="0.42"/>
<circle cx="593.4" cy="995.1" r="6.6" fill="#004187" fill-opacity="0.44" stroke="#000" stroke-opacity="0.42"/>
<circle cx="576.9" cy="963.8" r="6.6" fill="#004e9d" fill-opacity="0.44" stroke="#000" stroke-opacity="0.42"/>
<circle cx="585.5" cy="979.2" r="6.6" fill="#004792" fill-opacity="0.44" stroke="#000" stroke-opacity="0.42"/>
<circle cx="567.7" cy="948.4" r="6.6" fill="#0757a2" fill-opacity="0.45" stroke="#000" stroke-opacity="0.43"/>
<circle cx="628.5" cy="1319.0" r="6.6" fill="#00346d" fill-opacity="0.45" stroke="#000" stroke-opacity="0.43"/>
<circle cx="558.0" cy="933.1" r="6.6" fill="#1368ab" fill-opacity="0.46" stroke="#000" stroke-opacity="0.44"/>
<circle cx="620.0" cy="1328.0" r="6.6" fill="#00346d" fill-opacity="0.46" stroke="#000" stroke-opacity="0.44"/>
<circle cx="547.9" cy="918.3" r="6.6" fill="#237eb7" fill-opacity="0.47" stroke="#000" stroke-opacity="0.45"/>
<circle cx="609.7" cy="1335.6" r="6.6" fill="#003570" fill-opacity="0.47" stroke="#000" stroke-opacity="0.45"/>
<circle cx="537.7" cy="904.1" r="6.6" fill="#4d9ac6" fill-opacity="0.48" stroke="#000" stroke-opacity="0.45"/>
<circle cx="598.7" cy="1342.0" r="6.6" fill="#003570" fill-opacity="0.48" stroke="#000" stroke-opacity="0.46"/>
<circle cx="585.8" cy="1348.0" r="6.6" fill="#003775" fill-opacity="0.49" stroke="#000" stroke-opacity="0.46"/>
<circle cx="527.2" cy="890.4" r="6.6" fill="#7bb8d6" fill-opacity="0.49" stroke="#000" stroke-opacity="0.46"/>
<circle cx="516.3" cy="876.8" r="6.6" fill="#b9d8e8" fill-opacity="0.50" stroke="#000" stroke-opacity="0.47"/>
<circle cx="505.3" cy="864.0" r="6.6" fill="#f3f4f5" fill-opacity="0.51" stroke="#000" stroke-opacity="0.48"/>
<circle cx="494.3" cy="851.3" r="6.6" fill="#f8ba9c" fill-opacity="0.51" stroke="#000" stroke-opacity="0.49"/>
<circle cx="483.7" cy="840.1" r="6.6" fill="#d5543b" fill-opacity="0.52" stroke="#000" stroke-opacity="0.50"/>
<circle cx="472.6" cy="829.3" r="6.6" fill="#a20014" fill-opacity="0.55" stroke="#000" stroke-opacity="0.53"/>
<circle cx="389.0" cy="771.3" r="6.6" fill="#ac0814" fill-opacity="0.57" stroke="#000" stroke-opacity="0.54"/>
<circle cx="379.5" cy="767.4" r="6.6" fill="#d5553c" fill-opacity="0.57" stroke="#000" stroke-opacity="0.54"/>
<circle cx="370.1" cy="764.9" r="6.6" fill="#f39c76" fill-opacity="0.57" stroke="#000" stroke-opacity="0.55"/>
<circle cx="360.8" cy="763.8" r="6.6" fill="#fadece" fill-opacity="0.58" stroke="#000" stroke-opacity="0.55"/>
<circle cx="592.6" cy="1347.1" r="6.6" fill="#1263a8" fill-opacity="0.58" stroke="#000" stroke-opacity="0.55"/>
<circle cx="351.2" cy="762.6" r="6.6" fill="#e4edf2" fill-opacity="0.58" stroke="#000" stroke-opacity="0.55"/>
<circle cx="342.3" cy="762.5" r="6.6" fill="#c8dfed" fill-opacity="0.58" stroke="#000" stroke-opacity="0.55"/>
<circle cx="609.8" cy="1349.2" r="6.6" fill="#034d9c" fill-opacity="0.58" stroke="#000" stroke-opacity="0.55"/>
<circle cx="333.3" cy="763.5" r="6.6" fill="#9cc9e0" fill-opacity="0.58" stroke="#000" stroke-opacity="0.55"/>
<circle cx="324.8" cy="765.9" r="6.6" fill="#75b4d4" fill-opacity="0.58" stroke="#000" stroke-opacity="0.55"/>
<circle cx="316.2" cy="769.0" r="6.6" fill="#4f9ac6" fill-opacity="0.59" stroke="#000" stroke-opacity="0.56"/>
<circle cx="574.7" cy="1343.3" r="6.6" fill="#2981b8" fill-opacity="0.59" stroke="#000" stroke-opacity="0.56"/>
<circle cx="308.2" cy="773.3" r="6.6" fill="#3488bc" fill-opacity="0.59" stroke="#000" stroke-opacity="0.56"/>
<circle cx="300.9" cy="778.8" r="6.6" fill="#1f75b2" fill-opacity="0.59" stroke="#000" stroke-opacity="0.56"/>
<circle cx="293.8" cy="784.5" r="6.6" fill="#186bac" fill-opacity="0.59" stroke="#000" stroke-opacity="0.56"/>
<circle cx="287.4" cy="791.4" r="6.6" fill="#1161a7" fill-opacity="0.59" stroke="#000" stroke-opacity="0.56"/>
<circle cx="281.1" cy="799.0" r="6.6" fill="#0955a1" fill-opacity="0.59" stroke="#000" stroke-opacity="0.56"/>
<circle cx="556.2" cy="1339.5" r="6.6" fill="#79b6d5" fill-opacity="0.59" stroke="#000" stroke-opacity="0.56"/>
<circle cx="274.9" cy="807.3" r="6.6" fill="#034d9d" fill-opacity="0.59" stroke="#000" stroke-opacity="0.56"/>
<circle cx="269.3" cy="816.7" r="6.6" fill="#004794" fill-opacity="0.60" stroke="#000" stroke-opacity="0.57"/>
<circle cx="625.9" cy="1349.5" r="6.6" fill="#004086" fill-opacity="0.60" stroke="#000" stroke-opacity="0.57"/>
<circle cx="537.5" cy="1333.9" r="6.6" fill="#c2dceb" fill-opacity="0.60" stroke="#000" stroke-opacity="0.57"/>
<circle cx="516.7" cy="1326.9" r="6.6" fill="#eff2f4" fill-opacity="0.60" stroke="#000" stroke-opacity="0.57"/>
<circle cx="498.6" cy="1319.4" r="6.6" fill="#f9bd9f" fill-opacity="0.60" stroke="#000" stroke-opacity="0.57"/>
<circle cx="479.1" cy="1310.2" r="6.6" fill="#ea835f" fill-opacity="0.60" stroke="#000" stroke-opacity="0.57"/>
<circle cx="459.9" cy="1300.6" r="6.6" fill="#d95e43" fill-opacity="0.60" stroke="#000" stroke-opacity="0.57"/>
<circle cx="440.8" cy="1289.9" r="6.6" fill="#da6146" fill-opacity="0.60" stroke="#000" stroke-opacity="0.57"/>
<circle cx="422.2" cy="1278.4" r="6.6" fill="#e47656" fill-opacity="0.60" stroke="#000" stroke-opacity="0.57"/>
<circle cx="404.1" cy="1266.6" r="6.6" fill="#f29870" fill-opacity="0.60" stroke="#000" stroke-opacity="0.57"/>
<circle cx="389.0" cy="1253.3" r="6.6" fill="#f7b393" fill-opacity="0.60" stroke="#000" stroke-opacity="0.57"/>
<circle cx="369.2" cy="1241.0" r="6.6" fill="#fdd3bc" fill-opacity="0.60" stroke="#000" stroke-opacity="0.57"/>
<circle cx="354.5" cy="1227.3" r="6.6" fill="#f9e6db" fill-opacity="0.60" stroke="#000" stroke-opacity="0.57"/>
<circle cx="340.1" cy="1213.7" r="6.6" fill="#edf1f4" fill-opacity="0.60" stroke="#000" stroke-opacity="0.57"/>
<circle cx="326.4" cy="1199.7" r="6.6" fill="#d9e8f0" fill-opacity="0.60" stroke="#000" stroke-opacity="0.57"/>
<circle cx="313.6" cy="1185.2" r="6.6" fill="#c8dfed" fill-opacity="0.60" stroke="#000" stroke-opacity="0.57"/>
<circle cx="302.0" cy="1170.8" r="6.6" fill="#b0d3e6" fill-opacity="0.60" stroke="#000" stroke-opacity="0.57"/>
<circle cx="291.1" cy="1155.7" r="6.6" fill="#99c7df" fill-opacity="0.60" stroke="#000" stroke-opacity="0.57"/>
<circle cx="281.2" cy="1140.8" r="6.6" fill="#85bdd9" fill-opacity="0.60" stroke="#000" stroke-opacity="0.57"/>
<circle cx="272.7" cy="1125.6" r="6.6" fill="#6eafd1" fill-opacity="0.60" stroke="#000" stroke-opacity="0.57"/>
<circle cx="264.9" cy="1110.4" r="6.6" fill="#59a1ca" fill-opacity="0.60" stroke="#000" stroke-opacity="0.57"/>
<circle cx="258.0" cy="1094.7" r="6.6" fill="#4594c2" fill-opacity="0.60" stroke="#000" stroke-opacity="0.57"/>
<circle cx="252.4" cy="1080.0" r="6.6" fill="#3488bc" fill-opacity="0.60" stroke="#000" stroke-opacity="0.57"/>
<circle cx="247.4" cy="1063.2" r="6.6" fill="#267fb7" fill-opacity="0.60" stroke="#000" stroke-opacity="0.57"/>
<circle cx="243.2" cy="1047.6" r="6.6" fill="#2177b3" fill-opacity="0.60" stroke="#000" stroke-opacity="0.57"/>
<circle cx="239.9" cy="1031.8" r="6.6" fill="#1c71b0" fill-opacity="0.60" stroke="#000" stroke-opacity="0.57"/>
<circle cx="237.5" cy="1016.0" r="6.6" fill="#1a6dad" fill-opacity="0.60" stroke="#000" stroke-opacity="0.57"/>
<circle cx="235.7" cy="1000.7" r="6.6" fill="#1769ab" fill-opacity="0.60" stroke="#000" stroke-opacity="0.57"/>
<circle cx="234.8" cy="985.3" r="6.6" fill="#1363a8" fill-opacity="0.60" stroke="#000" stroke-opacity="0.57"/>
<circle cx="234.5" cy="970.1" r="6.6" fill="#0e5da5" fill-opacity="0.60" stroke="#000" stroke-opacity="0.57"/>
<circle cx="234.8" cy="955.1" r="6.6" fill="#0753a0" fill-opacity="0.60" stroke="#000" stroke-opacity="0.57"/>
<circle cx="235.4" cy="940.1" r="6.6" fill="#024b9a" fill-opacity="0.60" stroke="#000" stroke-opacity="0.57"/>
<circle cx="236.9" cy="925.8" r="6.6" fill="#004591" fill-opacity="0.60" stroke="#000" stroke-opacity="0.57"/>
<circle cx="264.4" cy="826.5" r="6.6" fill="#00438b" fill-opacity="0.61" stroke="#000" stroke-opacity="0.57"/>
<circle cx="461.7" cy="819.4" r="6.6" fill="#62001d" fill-opacity="0.61" stroke="#000" stroke-opacity="0.58"/>
<circle cx="239.0" cy="911.5" r="6.6" fill="#004085" fill-opacity="0.61" stroke="#000" stroke-opacity="0.58"/>
<circle cx="259.9" cy="836.9" r="6.6" fill="#003e83" fill-opacity="0.61" stroke="#000" stroke-opacity="0.58"/>
<circle cx="640.8" cy="1348.5" r="6.6" fill="#003978" fill-opacity="0.61" stroke="#000" stroke-opacity="0.58"/>
<circle cx="255.0" cy="847.9" r="6.6" fill="#003d80" fill-opacity="0.62" stroke="#000" stroke-opacity="0.59"/>
<circle cx="241.5" cy="898.1" r="6.6" fill="#003d80" fill-opacity="0.62" stroke="#000" stroke-opacity="0.59"/>
<circle cx="655.3" cy="1346.4" r="6.6" fill="#003673" fill-opacity="0.62" stroke="#000" stroke-opacity="0.59"/>
<circle cx="244.3" cy="884.7" r="6.6" fill="#003b7d" fill-opacity="0.62" stroke="#000" stroke-opacity="0.59"/>
<circle cx="451.0" cy="810.1" r="6.6" fill="#62001c" fill-opacity="0.62" stroke="#000" stroke-opacity="0.59"/>
<circle cx="247.6" cy="871.8" r="6.6" fill="#003a7b" fill-opacity="0.62" stroke="#000" stroke-opacity="0.59"/>
<circle cx="251.1" cy="859.6" r="6.6" fill="#003a7b" fill-opacity="0.62" stroke="#000" stroke-opacity="0.59"/>
<circle cx="440.2" cy="801.5" r="6.6" fill="#62001c" fill-opacity="0.63" stroke="#000" stroke-opacity="0.59"/>
<circle cx="709.0" cy="1320.2" r="6.6" fill="#003978" fill-opacity="0.63" stroke="#000" stroke-opacity="0.60"/>
<circle cx="700.5" cy="1327.0" r="6.6" fill="#003775" fill-opacity="0.63" stroke="#000" stroke-opacity="0.60"/>
<circle cx="429.6" cy="793.5" r="6.6" fill="#62001c" fill-opacity="0.63" stroke="#000" stroke-opacity="0.60"/>
<circle cx="716.1" cy="1311.7" r="6.6" fill="#003b7d" fill-opacity="0.63" stroke="#000" stroke-opacity="0.60"/>
<circle cx="668.3" cy="1343.1" r="6.6" fill="#00336e" fill-opacity="0.63" stroke="#000" stroke-opacity="0.60"/>
<circle cx="727.6" cy="1293.0" r="6.6" fill="#00428b" fill-opacity="0.63" stroke="#000" stroke-opacity="0.60"/>
<circle cx="722.5" cy="1302.4" r="6.6" fill="#003e82" fill-opacity="0.63" stroke="#000" stroke-opacity="0.60"/>
<circle cx="731.9" cy="1282.9" r="6.6" fill="#004590" fill-opacity="0.63" stroke="#000" stroke-opacity="0.60"/>
<circle cx="690.7" cy="1333.7" r="6.6" fill="#003570" fill-opacity="0.63" stroke="#000" stroke-opacity="0.60"/>
<circle cx="680.2" cy="1338.8" r="6.6" fill="#00336e" fill-opacity="0.63" stroke="#000" stroke-opacity="0.60"/>
<circle cx="399.1" cy="775.9" r="6.6" fill="#69001b" fill-opacity="0.63" stroke="#000" stroke-opacity="0.60"/>
<circle cx="419.5" cy="786.4" r="6.6" fill="#62001c" fill-opacity="0.63" stroke="#000" stroke-opacity="0.60"/>
<circle cx="409.3" cy="780.7" r="6.6" fill="#61001c" fill-opacity="0.63" stroke="#000" stroke-opacity="0.60"/>
<circle cx="734.6" cy="1272.0" r="6.6" fill="#034c9a" fill-opacity="0.64" stroke="#000" stroke-opacity="0.61"/>
<circle cx="736.5" cy="1261.5" r="6.6" fill="#08529f" fill-opacity="0.65" stroke="#000" stroke-opacity="0.61"/>
<circle cx="737.1" cy="1249.8" r="6.6" fill="#0c58a2" fill-opacity="0.65" stroke="#000" stroke-opacity="0.62"/>
<circle cx="736.9" cy="1238.6" r="6.6" fill="#105ea5" fill-opacity="0.66" stroke="#000" stroke-opacity="0.63"/>
<circle cx="736.0" cy="1226.8" r="6.6" fill="#1564a8" fill-opacity="0.67" stroke="#000" stroke-opacity="0.64"/>
<circle cx="734.0" cy="1214.9" r="6.6" fill="#1c6eae" fill-opacity="0.69" stroke="#000" stroke-opacity="0.65"/>
<circle cx="731.0" cy="1203.3" r="6.6" fill="#2378b3" fill-opacity="0.70" stroke="#000" stroke-opacity="0.66"/>
<circle cx="559.7" cy="1355.6" r="6.6" fill="#0a539f" fill-opacity="0.70" stroke="#000" stroke-opacity="0.67"/>
<circle cx="545.5" cy="1357.4" r="6.6" fill="#2174b1" fill-opacity="0.71" stroke="#000" stroke-opacity="0.67"/>
<circle cx="727.0" cy="1191.8" r="6.6" fill="#2980b7" fill-opacity="0.71" stroke="#000" stroke-opacity="0.67"/>
<circle cx="573.3" cy="1352.3" r="6.6" fill="#003a7c" fill-opacity="0.71" stroke="#000" stroke-opacity="0.68"/>
<circle cx="532.8" cy="1358.4" r="6.6" fill="#519bc6" fill-opacity="0.71" stroke="#000" stroke-opacity="0.68"/>
<circle cx="516.7" cy="1358.5" r="6.6" fill="#abd1e4" fill-opacity="0.72" stroke="#000" stroke-opacity="0.68"/>
<circle cx="722.2" cy="1180.0" r="6.6" fill="#4492c1" fill-opacity="0.72" stroke="#000" stroke-opacity="0.69"/>
<circle cx="503.1" cy="1358.5" r="6.6" fill="#f5f5f4" fill-opacity="0.73" stroke="#000" stroke-opacity="0.70"/>
<circle cx="716.2" cy="1168.1" r="6.6" fill="#65a8ce" fill-opacity="0.73" stroke="#000" stroke-opacity="0.70"/>
<circle cx="709.6" cy="1156.3" r="6.6" fill="#83bcd8" fill-opacity="0.75" stroke="#000" stroke-opacity="0.71"/>
<circle cx="489.6" cy="1357.5" r="6.6" fill="#f1936c" fill-opacity="0.75" stroke="#000" stroke-opacity="0.71"/>
<circle cx="702.0" cy="1144.8" r="6.6" fill="#a2cce2" fill-opacity="0.76" stroke="#000" stroke-opacity="0.72"/>
<circle cx="476.8" cy="1355.5" r="6.6" fill="#b1181e" fill-opacity="0.77" stroke="#000" stroke-opacity="0.73"/>
<circle cx="694.5" cy="1133.5" r="6.6" fill="#c8e0ed" fill-opacity="0.78" stroke="#000" stroke-opacity="0.74"/>
<circle cx="432.3" cy="1343.5" r="6.6" fill="#ae131c" fill-opacity="0.79" stroke="#000" stroke-opacity="0.75"/>
<circle cx="424.0" cy="1339.7" r="6.6" fill="#cf4c38" fill-opacity="0.79" stroke="#000" stroke-opacity="0.75"/>
<circle cx="686.0" cy="1122.5" r="6.6" fill="#eaf0f3" fill-opacity="0.79" stroke="#000" stroke-opacity="0.75"/>
<circle cx="416.5" cy="1335.9" r="6.6" fill="#e67b5b" fill-opacity="0.80" stroke="#000" stroke-opacity="0.76"/>
<circle cx="409.7" cy="1331.4" r="6.6" fill="#f6ac8a" fill-opacity="0.80" stroke="#000" stroke-opacity="0.76"/>
<circle cx="677.1" cy="1111.7" r="6.6" fill="#fbdbc9" fill-opacity="0.81" stroke="#000" stroke-opacity="0.77"/>
<circle cx="464.0" cy="1353.3" r="6.6" fill="#790017" fill-opacity="0.81" stroke="#000" stroke-opacity="0.77"/>
<circle cx="442.1" cy="1347.2" r="6.6" fill="#7f0016" fill-opacity="0.81" stroke="#000" stroke-opacity="0.77"/>
<circle cx="403.7" cy="1326.9" r="6.6" fill="#fbd9c5" fill-opacity="0.82" stroke="#000" stroke-opacity="0.78"/>
<circle cx="667.8" cy="1101.0" r="6.6" fill="#f4a27f" fill-opacity="0.83" stroke="#000" stroke-opacity="0.79"/>
<circle cx="398.4" cy="1321.6" r="6.6" fill="#f6f3f2" fill-opacity="0.83" stroke="#000" stroke-opacity="0.79"/>
<circle cx="452.7" cy="1350.2" r="6.6" fill="#670019" fill-opacity="0.84" stroke="#000" stroke-opacity="0.79"/>
<circle cx="658.1" cy="1091.4" r="6.6" fill="#d3563f" fill-opacity="0.85" stroke="#000" stroke-opacity="0.80"/>
<circle cx="393.1" cy="1316.3" r="6.6" fill="#e4edf2" fill-opacity="0.85" stroke="#000" stroke-opacity="0.81"/>
<circle cx="648.5" cy="1082.0" r="6.6" fill="#aa0e1b" fill-opacity="0.86" stroke="#000" stroke-opacity="0.82"/>
<circle cx="388.6" cy="1310.3" r="6.6" fill="#d1e4ee" fill-opacity="0.87" stroke="#000" stroke-opacity="0.82"/>
<circle cx="385.6" cy="1303.5" r="6.6" fill="#b4d5e7" fill-opacity="0.88" stroke="#000" stroke-opacity="0.84"/>
<circle cx="383.4" cy="1296.0" r="6.6" fill="#98c6de" fill-opacity="0.90" stroke="#000" stroke-opacity="0.85"/>
<circle cx="638.6" cy="1073.1" r="6.6" fill="#6c0017" fill-opacity="0.91" stroke="#000" stroke-opacity="0.86"/>
<circle cx="381.8" cy="1287.0" r="6.6" fill="#7bb7d5" fill-opacity="0.91" stroke="#000" stroke-opacity="0.86"/>
<circle cx="381.1" cy="1277.9" r="6.6" fill="#5ea2ca" fill-opacity="0.92" stroke="#000" stroke-opacity="0.87"/>
<circle cx="380.3" cy="1268.9" r="6.6" fill="#4591c0" fill-opacity="0.93" stroke="#000" stroke-opacity="0.88"/>
<circle cx="628.5" cy="1064.6" r="6.6" fill="#5a0018" fill-opacity="0.93" stroke="#000" stroke-opacity="0.88"/>
<circle cx="618.3" cy="1056.9" r="6.6" fill="#5a0018" fill-opacity="0.94" stroke="#000" stroke-opacity="0.89"/>
<circle cx="379.6" cy="1259.8" r="6.6" fill="#3082b8" fill-opacity="0.94" stroke="#000" stroke-opacity="0.89"/>
<circle cx="608.1" cy="1049.7" r="6.6" fill="#5a0018" fill-opacity="0.94" stroke="#000" stroke-opacity="0.89"/>
<circle cx="598.3" cy="1043.4" r="6.6" fill="#5a0018" fill-opacity="0.95" stroke="#000" stroke-opacity="0.90"/>
<circle cx="379.9" cy="1250.1" r="6.6" fill="#2874b0" fill-opacity="0.95" stroke="#000" stroke-opacity="0.90"/>
<circle cx="540.0" cy="1020.2" r="6.6" fill="#990819" fill-opacity="0.95" stroke="#000" stroke-opacity="0.90"/>
<circle cx="588.6" cy="1037.5" r="6.6" fill="#590018" fill-opacity="0.95" stroke="#000" stroke-opacity="0.90"/>
<circle cx="549.7" cy="1022.2" r="6.6" fill="#6a0015" fill-opacity="0.95" stroke="#000" stroke-opacity="0.91"/>
<circle cx="530.7" cy="1019.0" r="6.6" fill="#c13630" fill-opacity="0.95" stroke="#000" stroke-opacity="0.91"/>
<circle cx="578.5" cy="1032.4" r="6.6" fill="#590017" fill-opacity="0.96" stroke="#000" stroke-opacity="0.91"/>
<circle cx="381.1" cy="1238.8" r="6.6" fill="#2169aa" fill-opacity="0.96" stroke="#000" stroke-opacity="0.91"/>
<circle cx="522.3" cy="1018.6" r="6.6" fill="#f1946f" fill-opacity="0.96" stroke="#000" stroke-opacity="0.91"/>
<circle cx="568.8" cy="1028.1" r="6.6" fill="#590017" fill-opacity="0.96" stroke="#000" stroke-opacity="0.91"/>
<circle cx="513.3" cy="1018.9" r="6.6" fill="#f9e6db" fill-opacity="0.96" stroke="#000" stroke-opacity="0.92"/>
<circle cx="559.0" cy="1024.7" r="6.6" fill="#580017" fill-opacity="0.97" stroke="#000" stroke-opacity="0.92"/>
<circle cx="381.8" cy="1228.2" r="6.6" fill="#1c60a5" fill-opacity="0.97" stroke="#000" stroke-opacity="0.92"/>
<circle cx="504.5" cy="1020.5" r="6.6" fill="#cce1ed" fill-opacity="0.97" stroke="#000" stroke-opacity="0.92"/>
<circle cx="496.5" cy="1022.4" r="6.6" fill="#85bcd9" fill-opacity="0.97" stroke="#000" stroke-opacity="0.93"/>
<circle cx="384.1" cy="1216.9" r="6.6" fill="#15569f" fill-opacity="0.98" stroke="#000" stroke-opacity="0.93"/>
<circle cx="488.5" cy="1025.3" r="6.6" fill="#408dbe" fill-opacity="0.98" stroke="#000" stroke-opacity="0.93"/>
<circle cx="480.8" cy="1029.1" r="6.6" fill="#2771ae" fill-opacity="0.98" stroke="#000" stroke-opacity="0.94"/>
<circle cx="386.4" cy="1206.4" r="6.6" fill="#114c92" fill-opacity="0.99" stroke="#000" stroke-opacity="0.94"/>
<circle cx="473.3" cy="1033.9" r="6.6" fill="#195ba2" fill-opacity="0.99" stroke="#000" stroke-opacity="0.94"/>
<circle cx="466.0" cy="1039.2" r="6.6" fill="#134e96" fill-opacity="0.99" stroke="#000" stroke-opacity="0.95"/>
<circle cx="388.9" cy="1195.0" r="6.6" fill="#0f4485" fill-opacity="1.00" stroke="#000" stroke-opacity="0.95"/>
<circle cx="392.1" cy="1183.3" r="6.6" fill="#0c3e7c" fill-opacity="1.00" stroke="#000" stroke-opacity="0.95"/>
<circle cx="395.3" cy="1172.1" r="6.6" fill="#09366f" fill-opacity="1.00" stroke="#000" stroke-opacity="0.95"/>
<circle cx="398.8" cy="1160.9" r="6.6" fill="#073066" fill-opacity="1.00" stroke="#000" stroke-opacity="0.95"/>
<circle cx="402.5" cy="1149.7" r="6.6" fill="#062c60" fill-opacity="1.00" stroke="#000" stroke-opacity="0.95"/>
<circle cx="406.8" cy="1138.5" r="6.6" fill="#052a5d" fill-opacity="1.00" stroke="#000" stroke-opacity="0.95"/>
<circle cx="410.8" cy="1127.7" r="6.6" fill="#042757" fill-opacity="1.00" stroke="#000" stroke-opacity="0.95"/>
<circle cx="415.1" cy="1116.9" r="6.6" fill="#032554" fill-opacity="1.00" stroke="#000" stroke-opacity="0.95"/>
<circle cx="419.6" cy="1106.5" r="6.6" fill="#042757" fill-opacity="1.00" stroke="#000" stroke-opacity="0.95"/>
<circle cx="424.7" cy="1096.5" r="6.6" fill="#042757" fill-opacity="1.00" stroke="#000" stroke-opacity="0.95"/>
<circle cx="429.5" cy="1086.9" r="6.6" fill="#05295a" fill-opacity="1.00" stroke="#000" stroke-opacity="0.95"/>
<circle cx="434.8" cy="1077.6" r="6.6" fill="#052a5d" fill-opacity="1.00" stroke="#000" stroke-opacity="0.95"/>
<circle cx="440.4" cy="1068.8" r="6.6" fill="#072e63" fill-opacity="1.00" stroke="#000" stroke-opacity="0.95"/>
<circle cx="446.0" cy="1060.0" r="6.6" fill="#09346c" fill-opacity="1.00" stroke="#000" stroke-opacity="0.95"/>
<circle cx="452.4" cy="1052.0" r="6.6" fill="#0b3a76" fill-opacity="1.00" stroke="#000" stroke-opacity="0.95"/>
<circle cx="459.3" cy="1045.6" r="6.6" fill="#0e4282" fill-opacity="1.00" stroke="#000" stroke-opacity="0.95"/>
</g>
<text x="24.4" y="754.7" font-size="50">b</text>
<text x="80.5" y="883.6" font-size="17.6" text-anchor="middle" fill="#000" textLength="22.4" lengthAdjust="spacingAndGlyphs">10</text>
<text x="85.2" y="979.0" font-size="17.6" text-anchor="middle" fill="#000" textLength="11.2" lengthAdjust="spacingAndGlyphs">5</text>
<text x="89.4" y="1073.9" font-size="17.6" text-anchor="middle" fill="#000" textLength="11.2" lengthAdjust="spacingAndGlyphs">0</text>
<text x="94.0" y="1166.3" font-size="17.6" text-anchor="middle" fill="#000" textLength="25.9" lengthAdjust="spacingAndGlyphs">−5</text>
<text x="97.9" y="1257.1" font-size="17.6" text-anchor="middle" fill="#000" textLength="37.1" lengthAdjust="spacingAndGlyphs">−10</text>
<text x="134.2" y="1355.0" font-size="17.6" text-anchor="middle" fill="#000" textLength="37.1" lengthAdjust="spacingAndGlyphs">−10</text>
<text x="181.7" y="1404.9" font-size="17.6" text-anchor="middle" fill="#000" textLength="25.9" lengthAdjust="spacingAndGlyphs">−5</text>
<text x="231.3" y="1456.7" font-size="17.6" text-anchor="middle" fill="#000" textLength="11.2" lengthAdjust="spacingAndGlyphs">0</text>
<text x="282.3" y="1510.1" font-size="17.6" text-anchor="middle" fill="#000" textLength="11.2" lengthAdjust="spacingAndGlyphs">5</text>
<text x="335.4" y="1566.0" font-size="17.6" text-anchor="middle" fill="#000" textLength="22.4" lengthAdjust="spacingAndGlyphs">10</text>
<text x="444.7" y="1582.8" font-size="17.6" text-anchor="middle" fill="#000" textLength="22.4" lengthAdjust="spacingAndGlyphs">10</text>
<text x="542.4" y="1550.5" font-size="17.6" text-anchor="middle" fill="#000" textLength="11.2" lengthAdjust="spacingAndGlyphs">5</text>
<text x="638.0" y="1518.5" font-size="17.6" text-anchor="middle" fill="#000" textLength="11.2" lengthAdjust="spacingAndGlyphs">0</text>
<text x="732.2" y="1487.1" font-size="17.6" text-anchor="middle" fill="#000" textLength="25.9" lengthAdjust="spacingAndGlyphs">−5</text>
<text x="824.9" y="1456.7" font-size="17.6" text-anchor="middle" fill="#000" textLength="37.1" lengthAdjust="spacingAndGlyphs">−10</text>
<text transform="translate(51.7,1055.2) rotate(90.00)" x="0" y="4.6" font-size="17.6" text-anchor="middle" fill="#000" textLength="142.8" lengthAdjust="spacingAndGlyphs">Z (vertical; mm)</text>
<text transform="translate(209.0,1473.3) rotate(45.80)" x="0" y="4.6" font-size="17.6" text-anchor="middle" fill="#000" textLength="187.0" lengthAdjust="spacingAndGlyphs">Y (mediolateral; mm)</text>
<text transform="translate(652.0,1539.7) rotate(-18.20)" x="0" y="4.6" font-size="17.6" text-anchor="middle" fill="#000" textLength="213.5" lengthAdjust="spacingAndGlyphs">X (anteroposterior; mm)</text>
<defs><linearGradient id="cbg" x1="0" y1="0" x2="0" y2="1"><stop offset="0.0000" stop-color="#540013"/><stop offset="0.0312" stop-color="#690316"/><stop offset="0.0625" stop-color="#820719"/><stop offset="0.0938" stop-color="#9c0d1c"/><stop offset="0.1250" stop-color="#ad1a23"/><stop offset="0.1562" stop-color="#ba2e2d"/><stop offset="0.1875" stop-color="#c74236"/><stop offset="0.2188" stop-color="#d35843"/><stop offset="0.2500" stop-color="#df6e53"/><stop offset="0.2812" stop-color="#ea8664"/><stop offset="0.3125" stop-color="#f39c77"/><stop offset="0.3438" stop-color="#f6af8f"/><stop offset="0.3750" stop-color="#fac2a7"/><stop offset="0.4062" stop-color="#fcd5bf"/><stop offset="0.4375" stop-color="#fae0d0"/><stop offset="0.4688" stop-color="#f8eae2"/><stop offset="0.5000" stop-color="#f5f5f4"/><stop offset="0.5312" stop-color="#e8eff3"/><stop offset="0.5625" stop-color="#dae8f0"/><stop offset="0.5938" stop-color="#cce1ed"/><stop offset="0.6250" stop-color="#b7d7e8"/><stop offset="0.6562" stop-color="#a0cbe1"/><stop offset="0.6875" stop-color="#8bbfda"/><stop offset="0.7188" stop-color="#72b0d2"/><stop offset="0.7500" stop-color="#599ec8"/><stop offset="0.7812" stop-color="#408dbe"/><stop offset="0.8125" stop-color="#2e7db5"/><stop offset="0.8438" stop-color="#256eac"/><stop offset="0.8750" stop-color="#1c5fa4"/><stop offset="0.9062" stop-color="#145099"/><stop offset="0.9375" stop-color="#0d407f"/><stop offset="0.9688" stop-color="#073066"/><stop offset="1.0000" stop-color="#02214e"/></linearGradient></defs>
<rect x="955.2" y="775.3" width="35.7" height="701.4" fill="url(#cbg)" stroke="#000" stroke-width="1.6"/>
<text x="1002.3" y="1483.0" font-size="17.6" text-anchor="start" fill="#000" textLength="11.2" lengthAdjust="spacingAndGlyphs">0</text>
<text x="1002.3" y="1377.5" font-size="17.6" text-anchor="start" fill="#000" textLength="22.4" lengthAdjust="spacingAndGlyphs">20</text>
<text x="1002.3" y="1272.0" font-size="17.6" text-anchor="start" fill="#000" textLength="22.4" lengthAdjust="spacingAndGlyphs">40</text>
<text x="1002.3" y="1166.5" font-size="17.6" text-anchor="start" fill="#000" textLength="22.4" lengthAdjust="spacingAndGlyphs">60</text>
<text x="1002.3" y="1061.0" font-size="17.6" text-anchor="start" fill="#000" textLength="22.4" lengthAdjust="spacingAndGlyphs">80</text>
<text x="1002.3" y="955.5" font-size="17.6" text-anchor="start" fill="#000" textLength="33.6" lengthAdjust="spacingAndGlyphs">100</text>
<text x="1002.3" y="850.0" font-size="17.6" text-anchor="start" fill="#000" textLength="33.6" lengthAdjust="spacingAndGlyphs">120</text>
<path d="M990.9,1476.7 H996.6 M990.9,1371.2 H996.6 M990.9,1265.7 H996.6 M990.9,1160.2 H996.6 M990.9,1054.7 H996.6 M990.9,949.2 H996.6 M990.9,843.7 H996.6" stroke="#000" stroke-width="1.3"/>
<text transform="translate(1051.0,1128.3) rotate(-90.00)" x="0" y="6.3" font-size="17.6" text-anchor="middle" fill="#000" textLength="81.3" lengthAdjust="spacingAndGlyphs">SPM{T2}</text>
<line x1="347.4" y1="745.9" x2="387.5" y2="750.8" stroke="#6f6f6f" stroke-width="1.7" stroke-dasharray="7 3.4"/>
<polygon points="388.5,742.1 404.2,752.7 386.4,759.9" fill="#6f6f6f"/>
<line x1="497.8" y1="1004.4" x2="537.5" y2="1004.4" stroke="#6f6f6f" stroke-width="1.7" stroke-dasharray="7.5 3"/>
<polygon points="536.6,995.3 552.8,1004.4 536.6,1012.7" fill="#6f6f6f"/>
<line x1="571.4" y1="1331.6" x2="535.4" y2="1317.9" stroke="#6f6f6f" stroke-width="1.7" stroke-dasharray="7 3.4"/>
<polygon points="519.3,1312.4 538.0,1309.8 531.6,1325.9" fill="#6f6f6f"/>
<line x1="591.7" y1="1365.8" x2="556.6" y2="1372.2" stroke="#6f6f6f" stroke-width="1.7" stroke-dasharray="7 3.4"/>
<polygon points="540.1,1375.2 554.0,1363.6 557.8,1381.6" fill="#6f6f6f"/>
<text transform="translate(365.0,735.7) rotate(7.50)" x="0" y="6.2" font-size="18.3" text-anchor="middle" fill="#6f6f6f">75%</text>
<text x="514.0" y="997.6" font-size="18.0" text-anchor="middle" fill="#6f6f6f">25%</text>
<text transform="translate(563.2,1314.9) rotate(19.00)" x="0" y="6.2" font-size="18.0" text-anchor="middle" fill="#6f6f6f">50%</text>
<text transform="translate(582.9,1379.8) rotate(-9.00)" x="0" y="6.2" font-size="18.0" text-anchor="middle" fill="#6f6f6f">0%</text>
<line x1="481.9" y1="1414.3" x2="362.5" y2="1451.3" stroke="#000" stroke-width="2.6"/>
<polygon points="347.8,1455.7 360.6,1442.6 365.9,1459.5" fill="#000"/>

</svg>
</body></html>
